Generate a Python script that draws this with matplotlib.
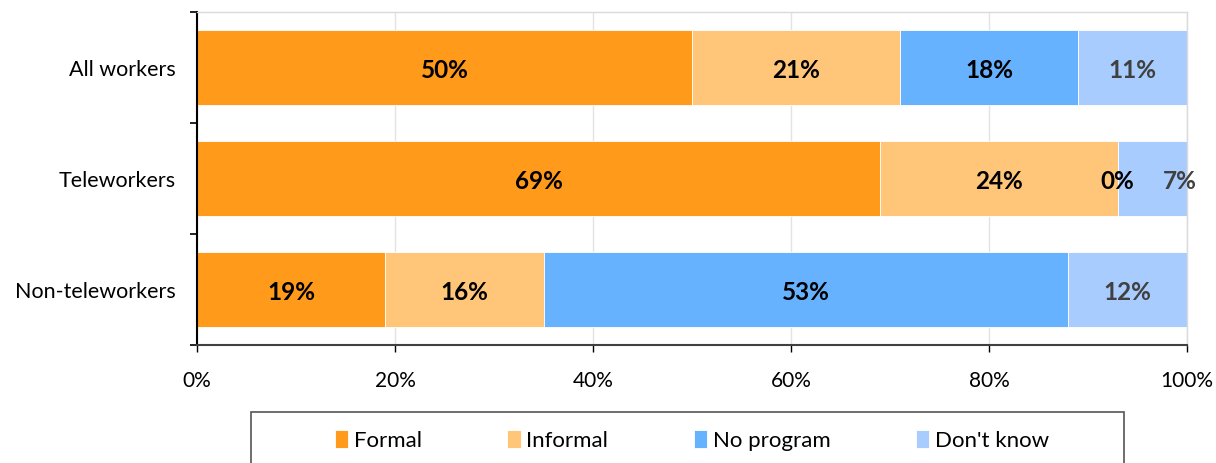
import matplotlib.pyplot as plt
import matplotlib.ticker as mticker
from matplotlib.patches import Rectangle
import numpy as np

plt.rcParams['font.family'] = ['Lato', 'DejaVu Sans']

categories = ["All workers", "Teleworkers", "Non-teleworkers"]
series_names = ["Formal", "Informal", "No program", "Don't know"]
formal = [50, 69, 19]
informal = [21, 24, 16]
no_program = [18, 0, 53]
dont_know = [11, 7, 12]
values = [formal, informal, no_program, dont_know]

colors = ["#FF9A1A", "#FFC67A", "#66B2FF", "#A9CCFF"]
label_colors = ["black", "black", "black", "#404040"]

fig = plt.figure(figsize=(12.16, 4.64), dpi=100)
ax = fig.add_axes([197 / 1216, 1 - 346 / 464, 990 / 1216, 333 / 464])

y = np.arange(len(categories))
left = np.zeros(len(categories))
for si, (name, vals, col, lcol) in enumerate(zip(series_names, values, colors, label_colors)):
    vals = np.array(vals, dtype=float)
    ax.barh(y, vals, left=left, height=0.667, color=col, label=name,
            edgecolor="white", linewidth=0.6, zorder=2)
    for yi, (l, v) in enumerate(zip(left, vals)):
        # small labels next to a zero-width segment get pushed right
        dx = 20 if (si == 3 and values[2][yi] == 0) else 0
        ax.annotate("%d%%" % v, (l + v / 2, yi + 0.02), xytext=(dx, 0),
                    textcoords="offset points", ha="center", va="center",
                    fontsize=17.5, fontweight="bold", color=lcol, zorder=3)
    left = left + vals

ax.set_xlim(0, 100)
ax.set_ylim(2.5, -0.5)
ax.set_yticks(y)
ax.set_yticklabels(categories, fontsize=15.5)
ax.set_yticks([-0.5, 0.5, 1.5, 2.5], minor=True)
ax.tick_params(axis="y", which="major", length=0, pad=15)
ax.tick_params(axis="y", which="minor", length=5, direction="out", width=1.2)
ax.set_xticks(np.arange(0, 101, 20))
ax.xaxis.set_major_formatter(mticker.FormatStrFormatter('%d%%'))
ax.tick_params(axis="x", labelsize=15, length=5, width=1, pad=13)
ax.grid(axis="x", color="#E3E3E3", linewidth=1, zorder=0)

for side in ["top", "right"]:
    ax.spines[side].set_color("#DADADA")
    ax.spines[side].set_linewidth(1)
ax.spines["left"].set_linewidth(1.5)
ax.spines["bottom"].set_linewidth(1.5)
ax.spines["bottom"].set_color("#404040")

# legend box (partly cut off at the bottom like the reference)
fig.patches.append(Rectangle((251 / 1216, -0.05), 873 / 1216, 1 - 413 / 464 + 0.05,
                             transform=fig.transFigure, fill=False,
                             edgecolor="#555555", linewidth=1.2))
handles, labels = ax.get_legend_handles_labels()
leg = fig.legend(handles, labels, loc="center", bbox_to_anchor=(0.569, 1 - 441 / 464),
                 ncol=4, frameon=False, fontsize=16, handlelength=0.6,
                 handleheight=0.9, handletextpad=0.25, columnspacing=3.85)

fig.savefig("out.png", dpi=100)
